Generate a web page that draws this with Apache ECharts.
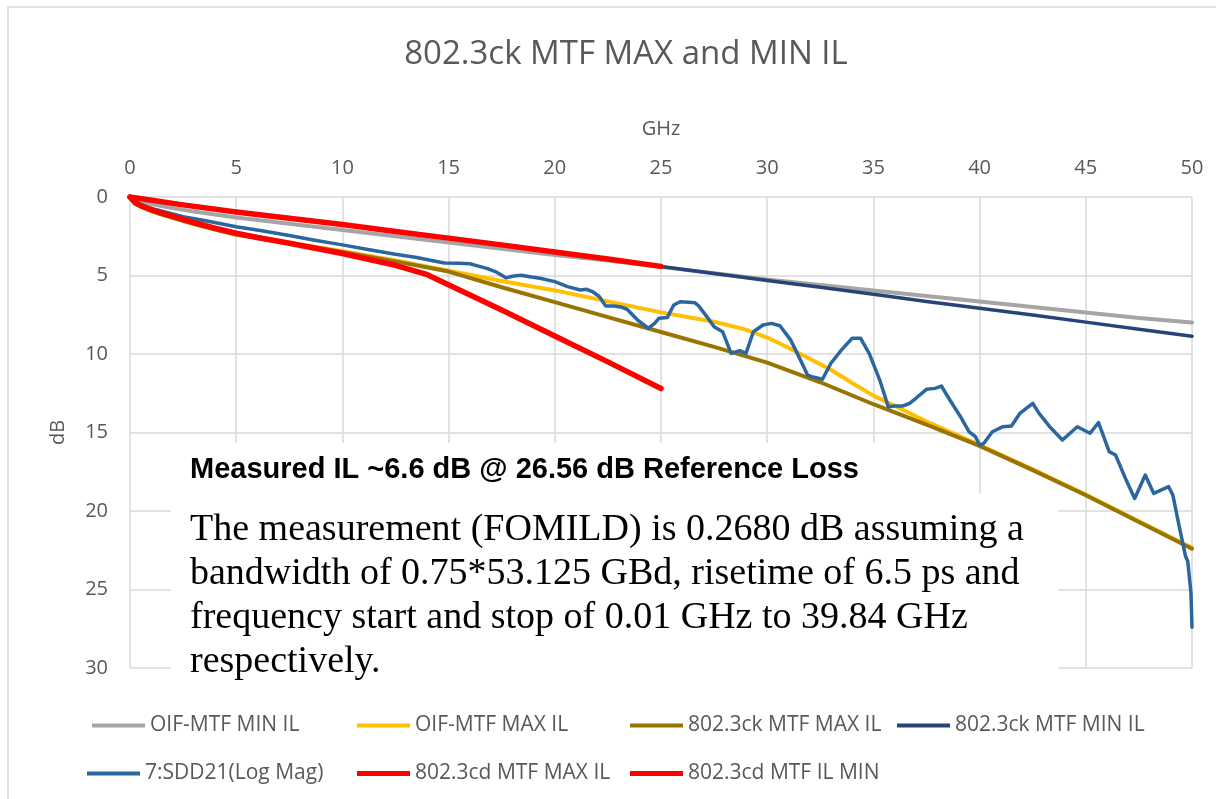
<!DOCTYPE html>
<html>
<head>
<meta charset="utf-8">
<script src="https://cdn.jsdelivr.net/npm/echarts@6/dist/echarts.min.js"></script>
<style>
html,body{margin:0;padding:0;background:#fff;}
#chart{width:1216px;height:799px;}
</style>
</head>
<body>
<div id="chart"></div>
<script>
// ---------- data (GHz, dB insertion loss) ----------
const xTicks = [0, 5, 10, 15, 20, 25, 30, 35, 40, 45, 50];
const yTicks = [0, 5, 10, 15, 20, 25, 30];

const oifMinFreq = [0, 0.25, 0.5, 1, 1.5, 2, 3, 4, 5, 6, 7.5, 10, 12.5, 15, 17.5, 20, 22.5, 25, 27.5, 30, 32.5, 35, 37.5, 40, 42.5, 45, 47.5, 50];
const oifMinIL   = [0, 0.2, 0.3, 0.45, 0.58, 0.7, 0.92, 1.12, 1.3, 1.46, 1.7, 2.1, 2.5, 2.9, 3.3, 3.7, 4.05, 4.45, 4.85, 5.25, 5.6, 5.95, 6.3, 6.65, 7.0, 7.35, 7.7, 8.0];

const oifMaxFreq = [0, 0.25, 0.5, 1, 1.5, 2, 3, 4, 5, 6, 7.5, 10, 12.5, 15, 17.5, 20, 22.5, 25, 27.5, 29, 30, 31, 32, 33, 34, 35, 36, 37.5, 39, 40, 42.5, 45, 47.5, 50];
const oifMaxIL   = [0, 0.38, 0.55, 0.8, 1.02, 1.22, 1.62, 1.98, 2.3, 2.55, 2.9, 3.45, 4.05, 4.7, 5.35, 5.95, 6.65, 7.35, 7.95, 8.45, 8.95, 9.6, 10.3, 11.0, 11.85, 12.65, 13.3, 14.3, 15.2, 15.8, 17.35, 18.95, 20.65, 22.35];

const ckMaxFreq = [0, 0.25, 0.5, 1, 1.5, 2, 3, 4, 5, 6, 7.5, 10, 12.5, 15, 17.5, 20, 22.5, 25, 27.5, 30, 32.5, 35, 37.5, 40, 42.5, 45, 47.5, 50];
const ckMaxIL   = [0, 0.42, 0.6, 0.9, 1.12, 1.32, 1.72, 2.08, 2.4, 2.62, 2.95, 3.5, 4.1, 4.75, 5.75, 6.7, 7.65, 8.6, 9.55, 10.55, 11.8, 13.2, 14.5, 15.85, 17.4, 19.0, 20.7, 22.4];

const ckMinFreq = [0, 0.5, 1, 2.5, 5, 7.5, 10, 12.5, 15, 17.5, 20, 22.5, 25, 27.5, 30, 32.5, 35, 37.5, 40, 42.5, 45, 47.5, 50];
const ckMinIL   = [0, 0.12, 0.2, 0.5, 0.95, 1.35, 1.75, 2.2, 2.62, 3.05, 3.5, 3.95, 4.42, 4.87, 5.32, 5.75, 6.2, 6.65, 7.08, 7.52, 7.97, 8.42, 8.87];

const sdd21Freq = [0, 0.3, 0.7, 1.2, 2.5, 3.5, 5, 6.2, 7.5, 8.7, 10, 11.2, 12.5, 13.5, 14.2, 14.8, 15.5, 16, 16.4, 16.8, 17.2, 17.7, 18, 18.4, 18.9, 19.3, 20, 20.6, 21.2, 21.5, 21.8, 22.1, 22.4, 22.8, 23.1, 23.4, 23.9, 24.4, 24.7, 24.9, 25.3, 25.6, 25.9, 26.3, 26.6, 26.8, 27.2, 27.5, 27.9, 28.3, 28.7, 29.0, 29.35, 29.8, 30.2, 30.6, 31.1, 31.5, 31.9, 32.1, 32.6, 33.0, 33.5, 34.0, 34.4, 34.8, 35.3, 35.7, 36.0, 36.4, 36.7, 37.0, 37.5, 37.9, 38.2, 38.6, 39.1, 39.5, 39.8, 40.0, 40.2, 40.6, 41.1, 41.5, 41.9, 42.5, 42.8, 43.3, 43.9, 44.6, 45.2, 45.6, 46.1, 46.4, 46.9, 47.3, 47.8, 48.2, 48.9, 49.1, 49.4, 49.7, 49.8, 49.95, 50];
const sdd21IL   = [0.05, 0.35, 0.6, 0.8, 1.25, 1.5, 1.9, 2.15, 2.45, 2.75, 3.05, 3.35, 3.65, 3.85, 4.05, 4.2, 4.22, 4.25, 4.4, 4.55, 4.75, 5.15, 5.05, 4.98, 5.1, 5.18, 5.39, 5.71, 5.92, 5.88, 6.05, 6.35, 6.95, 6.94, 7.0, 7.15, 7.84, 8.36, 8.05, 7.73, 7.67, 6.88, 6.67, 6.7, 6.73, 6.98, 7.7, 8.26, 8.58, 9.96, 9.79, 9.96, 8.58, 8.15, 8.05, 8.2, 9.1, 10.2, 11.34, 11.44, 11.61, 10.59, 9.74, 9.0, 9.0, 9.96, 11.66, 13.36, 13.31, 13.31, 13.14, 12.82, 12.25, 12.19, 12.04, 12.93, 13.99, 14.95, 15.26, 15.8, 15.69, 14.95, 14.63, 14.59, 13.78, 13.14, 13.78, 14.63, 15.48, 14.63, 15.05, 14.37, 16.22, 16.43, 18.03, 19.2, 17.71, 18.88, 18.45, 18.99, 20.99, 22.9, 23.2, 25.2, 27.4];

const cdMaxFreq = [0, 0.25, 0.5, 1, 1.5, 2, 3, 4, 5, 6, 7.5, 10, 12.5, 14, 17.5, 20, 22.5, 25];
const cdMaxIL   = [0, 0.38, 0.55, 0.8, 1.02, 1.22, 1.62, 1.98, 2.3, 2.58, 2.95, 3.6, 4.35, 4.95, 7.2, 8.85, 10.5, 12.2];

const cdMinFreq = [0, 2.5, 5, 7.5, 10, 12.5, 15, 17.5, 20, 22.5, 25];
const cdMinIL   = [0, 0.5, 0.95, 1.35, 1.75, 2.2, 2.62, 3.05, 3.5, 3.95, 4.42];

const seriesNames = ['OIF-MTF MIN IL', 'OIF-MTF MAX IL', '802.3ck MTF MAX IL', '802.3ck MTF MIN IL', '7:SDD21(Log Mag)', '802.3cd MTF MAX IL', '802.3cd MTF IL MIN'];

const noteTitle = 'Measured IL ~6.6 dB @ 26.56 dB Reference Loss';
const noteLines = [
  'The measurement (FOMILD) is 0.2680 dB assuming a',
  'bandwidth of 0.75*53.125 GBd, risetime of 6.5 ps and',
  'frequency start and stop of 0.01 GHz to 39.84 GHz',
  'respectively.'
];

// ---------- build ----------
function zip(fs, vs) { return fs.map((f, i) => [f, vs[i]]); }

const seriesDefs = [
  { data: zip(oifMinFreq, oifMinIL), color: '#A5A5A5', width: 4 },
  { data: zip(oifMaxFreq, oifMaxIL), color: '#FFC000', width: 4 },
  { data: zip(ckMaxFreq, ckMaxIL),   color: '#9A7400', width: 4 },
  { data: zip(ckMinFreq, ckMinIL),   color: '#264478', width: 3.5 },
  { data: zip(sdd21Freq, sdd21IL),   color: '#2B679E', width: 3.5 },
  { data: zip(cdMaxFreq, cdMaxIL),   color: '#FF0000', width: 5.5 },
  { data: zip(cdMinFreq, cdMinIL),   color: '#FF0000', width: 5.5 }
];

const axisFont = '"Open Sans", "Noto Sans", sans-serif';
const grey = '#595959';

// legend slots (icon left edge, row top)
const legendSlots = [[87, 710], [352, 710], [625, 710], [892, 710], [82, 758], [352, 758], [625, 758]];

const chart = echarts.init(document.getElementById('chart'), null, { renderer: 'canvas' });

const option = {
  animation: false,
  backgroundColor: '#ffffff',
  title: {
    text: '802.3ck MTF MAX and MIN IL',
    left: 621,
    textAlign: 'center',
    top: 33,
    textStyle: { fontFamily: axisFont, fontSize: 33, fontWeight: 'normal', color: grey }
  },
  grid: { left: 130, right: 24, top: 197, bottom: 131, containLabel: false },
  xAxis: {
    type: 'value',
    position: 'top',
    min: xTicks[0],
    max: xTicks[xTicks.length - 1],
    interval: xTicks[1] - xTicks[0],
    name: 'GHz',
    nameLocation: 'middle',
    nameGap: 58,
    nameTextStyle: { fontFamily: axisFont, fontSize: 20, color: grey },
    axisLine: { show: false },
    axisTick: { show: false },
    axisLabel: { fontFamily: axisFont, fontSize: 20, color: grey, margin: 19 },
    splitLine: { show: true, lineStyle: { color: '#D9D9D9', width: 1.5 } }
  },
  yAxis: {
    type: 'value',
    inverse: true,
    min: yTicks[0],
    max: yTicks[yTicks.length - 1],
    interval: yTicks[1] - yTicks[0],
    name: 'dB',
    nameLocation: 'middle',
    nameGap: 62,
    nameTextStyle: { fontFamily: axisFont, fontSize: 20, color: grey },
    axisLine: { show: false },
    axisTick: { show: false },
    axisLabel: { fontFamily: axisFont, fontSize: 20, color: grey, margin: 22 },
    splitLine: { show: true, lineStyle: { color: '#D9D9D9', width: 1.5 } }
  },
  legend: seriesNames.map((n, i) => ({
    left: legendSlots[i][0],
    top: legendSlots[i][1],
    data: [n],
    icon: 'rect',
    itemWidth: 53,
    itemHeight: i >= 5 ? 5 : 4,
    selectedMode: false,
    textStyle: { fontFamily: axisFont, fontSize: 21, color: grey }
  })),
  series: seriesDefs.map((d, i) => ({
    name: seriesNames[i],
    type: 'line',
    data: d.data,
    symbol: 'none',
    showSymbol: false,
    smooth: false,
    color: d.color,
    itemStyle: { color: d.color },
    lineStyle: { color: d.color, width: d.width, cap: 'round', join: 'round' },
    z: 2 + i,
    silent: true
  })),
  graphic: [
    { type: 'rect', silent: true, z: -10, shape: { x: 8, y: 7, width: 1400, height: 1000 },
      style: { fill: 'none', stroke: '#D9D9D9', lineWidth: 1.5 } },
    { type: 'rect', silent: true, z: 100, shape: { x: 171, y: 443, width: 760, height: 54 },
      style: { fill: '#ffffff' } },
    { type: 'rect', silent: true, z: 100, shape: { x: 171, y: 493, width: 887, height: 205 },
      style: { fill: '#ffffff' } },
    { type: 'text', silent: true, z: 101, x: 190, y: 470,
      style: { text: noteTitle, fill: '#000000', font: 'bold 29px "Liberation Sans", Arial, sans-serif',
               textVerticalAlign: 'middle', verticalAlign: 'middle', textAlign: 'left', align: 'left' } }
  ].concat(noteLines.map((t, i) => ({
    type: 'text', silent: true, z: 101, x: 190, y: 530 + i * 44,
    style: { text: t, fill: '#000000', font: '38px "Liberation Serif", "Times New Roman", serif',
             textVerticalAlign: 'middle', verticalAlign: 'middle', textAlign: 'left', align: 'left' }
  })))
};

chart.setOption(option);
</script>
</body>
</html>
